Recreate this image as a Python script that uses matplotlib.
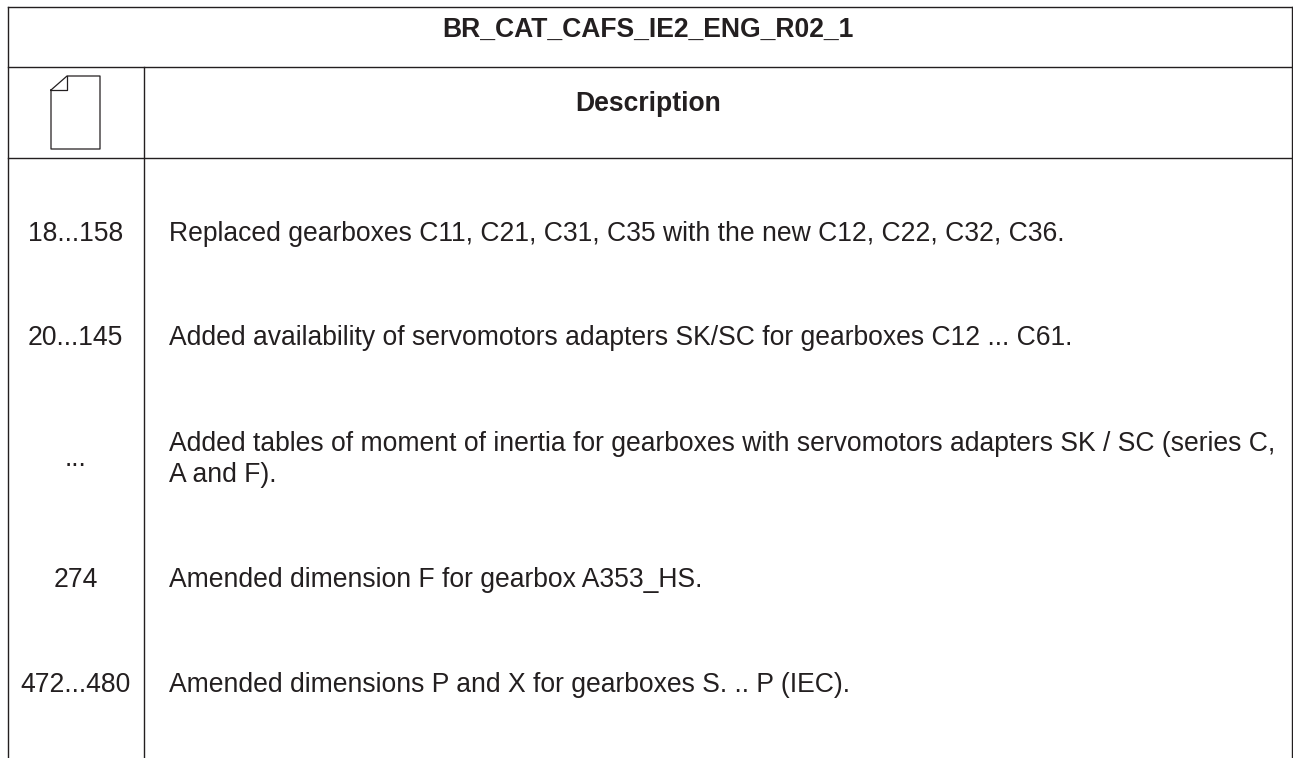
import matplotlib
matplotlib.use('Agg')
import matplotlib.pyplot as plt

plt.rcParams['font.family'] = ['Liberation Sans', 'DejaVu Sans']

W = 1293
H = 758

#table text
title = 'BR_CAT_CAFS_IE2_ENG_R02_1'
header = 'Description'
pages = ['18...158', '20...145', '...', '274', '472...480']
descriptions = [
    'Replaced gearboxes C11, C21, C31, C35 with the new C12, C22, C32, C36.',
    'Added availability of servomotors adapters SK/SC for gearboxes C12 ... C61.',
    'Added tables of moment of inertia for gearboxes with servomotors adapters SK / SC (series C,\nA and F).',
    'Amended dimension F for gearbox A353_HS.',
    'Amended dimensions P and X for gearboxes S. .. P (IEC).',
]

#layout in pixels
left = 7.5
right = 1292
col = 143.5
top = 6.5
row1 = 67
row2 = 157.5
row_y = [234, 338, 459.5, 580, 685]
head_x = 648
text_color = '#231f20'
line_color = '#231f20'
fs = 19.1

fig = plt.figure(figsize=(W / 100, H / 100), dpi=100)
ax = fig.add_axes([0, 0, 1, 1])
ax.set_xlim(0, W)
ax.set_ylim(H, 0)
ax.axis('off')

lw = 1.0
#grid lines
ax.plot([left, left], [top, H], color=line_color, lw=lw)
ax.plot([right, right], [top, H], color=line_color, lw=lw)
ax.plot([col, col], [row1, H], color=line_color, lw=lw)
for yy in [top, row1, row2]:
    ax.plot([left, right], [yy, yy], color=line_color, lw=lw)

#page icon
ax.plot([51, 67, 100, 100, 51, 51], [90, 76, 76, 149, 149, 90], color=line_color, lw=0.9)
ax.plot([51, 67, 67], [90, 90, 76], color=line_color, lw=0.9)

ax.text(head_x, 30, title, ha='center', va='center', fontsize=fs, fontweight='bold', color=text_color)
ax.text(head_x, 104, header, ha='center', va='center', fontsize=fs, fontweight='bold', color=text_color)

for page, desc, yy in zip(pages, descriptions, row_y):
    ax.text((left + col) / 2, yy, page, ha='center', va='center', fontsize=fs, color=text_color)
    ax.text(169, yy, desc, ha='left', va='center', fontsize=fs, color=text_color, linespacing=1.24)

fig.savefig('out.png', dpi=100)
